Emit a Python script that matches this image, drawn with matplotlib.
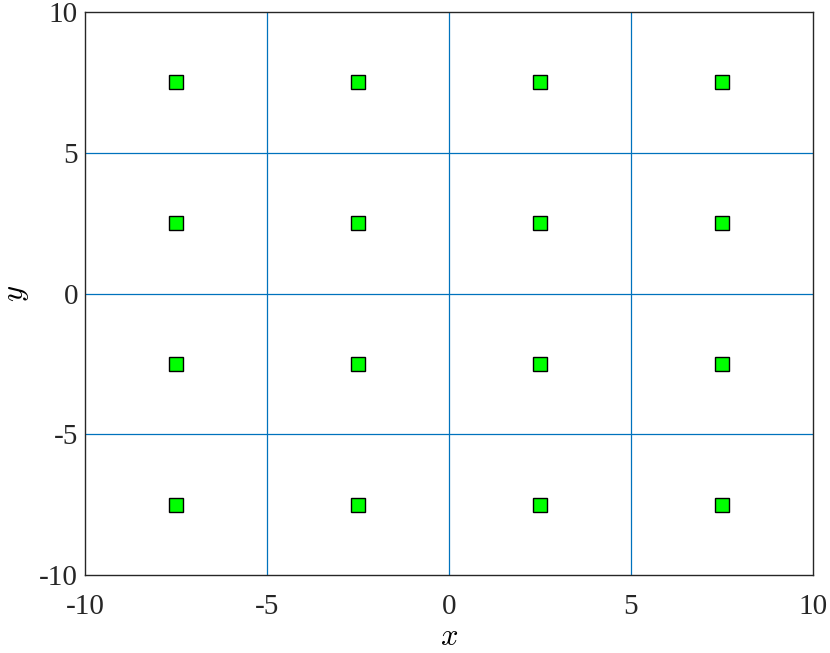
import matplotlib.pyplot as plt

# cell centres and grid lines
x_centres = [-7.5, -2.5, 2.5, 7.5]
y_centres = [7.5, 2.5, -2.5, -7.5]
grid_lines = [-5, 0, 5]
ticks = [-10, -5, 0, 5, 10]
tick_labels = ["-10", "-5", "0", "5", "10"]

plt.rcParams["font.family"] = ["Liberation Serif", "DejaVu Serif"]
plt.rcParams["mathtext.fontset"] = "cm"

fig = plt.figure(figsize=(8.3, 6.53), dpi=100)
ax = fig.add_axes([0.1024, 0.1194, 0.8771, 0.8622])

for g in grid_lines:
    ax.axvline(g, color="#0072BD", lw=0.9)
    ax.axhline(g, color="#0072BD", lw=0.9)

xs = [x for y in y_centres for x in x_centres]
ys = [y for y in y_centres for x in x_centres]
ax.plot(xs, ys, "s", color="#00FF00", markeredgecolor="black",
        markersize=9.5, markeredgewidth=1.0, zorder=3)

ax.set_xlim(-10, 10)
ax.set_ylim(-10, 10)
ax.set_xticks(ticks)
ax.set_xticklabels(tick_labels)
ax.set_yticks(ticks)
ax.set_yticklabels(tick_labels)
ax.tick_params(length=0, labelsize=21, colors="#262626")
ax.tick_params(axis="x", pad=14)
ax.tick_params(axis="y", pad=5)
for s in ax.spines.values():
    s.set_color("#262626")
    s.set_linewidth(1.0)

ax.set_xlabel("$x$", fontsize=22, labelpad=2)
ax.set_ylabel("$y$", fontsize=22, labelpad=6)

fig.savefig("out.png", dpi=100)
